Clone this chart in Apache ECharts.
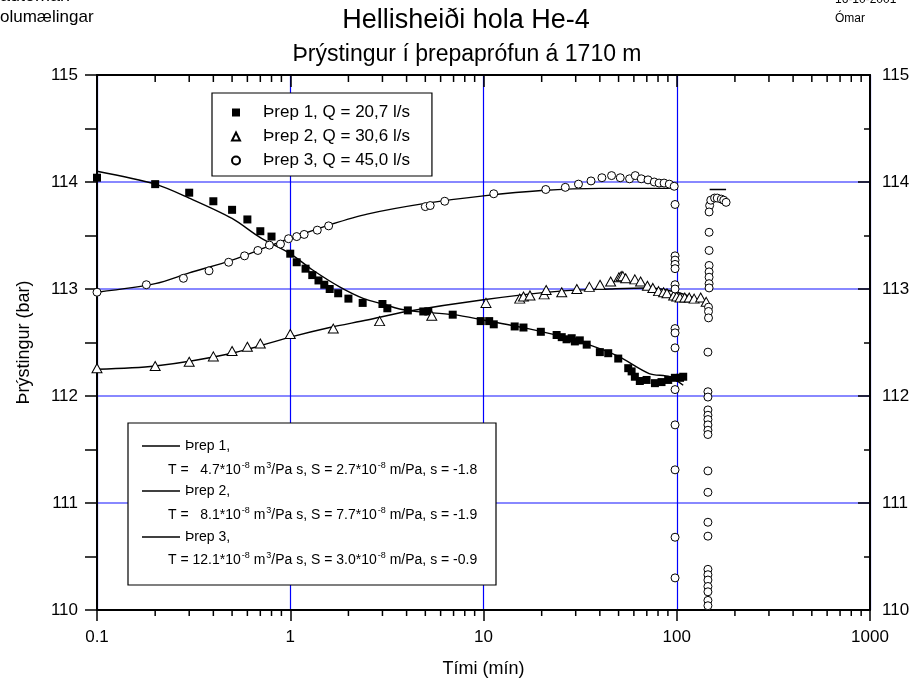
<!DOCTYPE html>
<html><head><meta charset="utf-8">
<script src="https://cdn.jsdelivr.net/npm/echarts@6/dist/echarts.min.js"></script>
<style>html,body{margin:0;padding:0;background:#fff}#c{width:921px;height:690px}</style>
</head><body><div id="c"></div>
<script>
// ---------- data ----------
const xTickLabels = [0.1, 1, 10, 100, 1000];
const xMinorTicks = [0.2,0.3,0.4,0.5,0.6,0.7,0.8,0.9,2,3,4,5,6,7,8,9,20,30,40,50,60,70,80,90,200,300,400,500,600,700,800,900];
const yTickLabels = [110, 111, 112, 113, 114, 115];

const legendNames = ['Þrep 1, Q = 20,7 l/s', 'Þrep 2, Q = 30,6 l/s', 'Þrep 3, Q = 45,0 l/s'];

const prep1 = [[0.1,114.04],[0.2,113.98],[0.3,113.90],[0.4,113.82],[0.5,113.74],[0.6,113.65],[0.7,113.54],[0.8,113.49],[1.0,113.33],[1.08,113.25],[1.2,113.19],[1.3,113.13],[1.4,113.08],[1.5,113.04],[1.6,113.00],[1.77,112.96],[2.0,112.91],[2.37,112.87],[3.0,112.86],[3.18,112.82],[4.06,112.80],[4.88,112.79],[5.18,112.79],[6.93,112.76],[9.67,112.70],[10.7,112.70],[11.3,112.67],[14.5,112.65],[16.1,112.64],[19.8,112.60],[23.9,112.57],[25.4,112.55],[26.9,112.53],[28.6,112.54],[29.7,112.51],[31.5,112.52],[34.2,112.48],[40,112.41],[44.2,112.40],[49.8,112.35],[56.1,112.26],[58.4,112.23],[60.7,112.18],[64.4,112.14],[69.8,112.15],[77.1,112.12],[83.4,112.13],[90.3,112.15],[97.8,112.17],[104,112.17],[108,112.18]];

const prep2 = [[0.1,112.26],[0.2,112.28],[0.3,112.32],[0.4,112.37],[0.5,112.42],[0.6,112.46],[0.7,112.49],[1.0,112.58],[1.67,112.63],[2.9,112.70],[5.4,112.75],[10.3,112.87],[15.4,112.91],[16.1,112.93],[17.4,112.94],[20.6,112.95],[21.1,112.99],[25.4,112.97],[30.4,113.00],[35.3,113.02],[40.1,113.04],[45.5,113.07],[50.2,113.11],[51.6,113.12],[52.6,113.12],[54.4,113.10],[60.7,113.09],[65,113.07],[70.5,113.03],[75.2,113.01],[80.5,112.98],[85.5,112.97],[89,112.96],[96.4,112.94],[100,112.93],[104,112.92],[110,112.92],[116,112.92],[123,112.91],[133,112.92],[142,112.88]];

const prep3 = [[0.1,112.97],[0.18,113.04],[0.28,113.10],[0.38,113.17],[0.48,113.25],[0.58,113.31],[0.68,113.36],[0.78,113.41],[0.89,113.42],[0.98,113.47],[1.08,113.49],[1.18,113.51],[1.38,113.55],[1.58,113.59],[5.0,113.77],[5.3,113.78],[6.3,113.82],[11.3,113.89],[21,113.93],[26.5,113.95],[31,113.98],[36,114.01],[41,114.04],[46,114.06],[51,114.04],[57,114.03],[61,114.06],[65.5,114.03],[71,114.02],[76.5,114.00],[81,113.99],[86,113.99],[91.5,113.98],[97,113.96],
[98,113.79],[98,113.31],[98,113.27],[98,113.23],[98,113.19],[98,113.04],[98,113.00],[98,112.63],[98,112.59],[98,112.45],[98,112.06],[98,111.73],[98,111.31],[98,110.68],[98,110.30],
[148,113.78],[147,113.72],[147,113.53],[147,113.36],[147,113.22],[147,113.16],[147,113.11],[147,113.05],[147,113.01],[146,112.83],[146,112.79],[146,112.73],[145,112.41],[145,112.04],[145,111.99],[145,111.87],[145,111.82],[145,111.78],[145,111.73],[145,111.68],[145,111.64],[145,111.30],[145,111.10],[145,110.82],[145,110.69],[145,110.38],[145,110.33],[145,110.28],[145,110.22],[145,110.17],[145,110.09],[145,110.04],
[150,113.83],[157,113.85],[162,113.85],[170,113.84],[175,113.83],[180,113.81]];

const fit1 = [[0.1,114.10],[0.2,113.98],[0.3,113.85],[0.5,113.66],[0.7,113.48],[1,113.33],[1.3,113.18],[1.8,113.02],[2.4,112.91],[3,112.86],[4,112.80],[7,112.76],[10,112.71],[17,112.63],[25,112.56],[35,112.48],[50,112.37],[72,112.21],[92,112.18],[108,112.10]];
const fit2 = [[0.1,112.25],[0.2,112.28],[0.5,112.40],[1,112.55],[1.6,112.64],[2.5,112.71],[4,112.79],[10,112.90],[25,112.98],[45,113.00],[70,113.01],[100,112.97],[143,112.87]];
const fit3 = [[0.1,112.97],[0.2,113.05],[0.3,113.15],[0.5,113.27],[0.8,113.41],[1.1,113.50],[1.6,113.60],[2.5,113.70],[5,113.80],[10,113.87],[20,113.92],[40,113.94],[100,113.94]];
const fit3tail = [[148,113.93],[180,113.93]];

const fitLabels = ['Þrep 1,', 'Þrep 2,', 'Þrep 3,'];
const fitT = ['  4.7', '  8.1', '12.1'];
const fitS = ['2.7', '7.7', '3.0'];
const fitSkin = ['-1.8', '-1.9', '-0.9'];

// ---------- chart ----------
const FONT = 'Liberation Sans, Arial, sans-serif';
const chart = echarts.init(document.getElementById('c'), null, {renderer: 'canvas'});
const yMin = 110, yMax = 115;

function fitLine(row) {
  return '{n|T = ' + fitT[row] + '*10}{s|-8}{n| m}{s|3}{n|/Pa s, S = ' + fitS[row] + '*10}{s|-8}{n| m/Pa, s = ' + fitSkin[row] + '}';
}
const boxLeft = 128, boxTop = 423, boxW = 368, boxH = 162;
const rowY = [446, 469, 491, 514, 537, 559];
const boxChildren = [{type:'rect', z:100, shape:{x:boxLeft, y:boxTop, width:boxW, height:boxH}, style:{fill:'#fff', stroke:'#000', lineWidth:1.2}}];
for (let i = 0; i < 3; i++) {
  boxChildren.push({type:'line', z:101, shape:{x1:142, y1:rowY[2*i], x2:180, y2:rowY[2*i]}, style:{stroke:'#000', lineWidth:1.3}});
  boxChildren.push({type:'text', z:101, x:185, y:rowY[2*i], style:{text:fitLabels[i], font:'14px ' + FONT, fill:'#000', verticalAlign:'middle', align:'left'}});
  boxChildren.push({type:'text', z:101, x:168, y:rowY[2*i+1], style:{text:fitLine(i), verticalAlign:'middle', align:'left',
    rich:{n:{fontSize:14, fontFamily:FONT, color:'#000', lineHeight:16, verticalAlign:'bottom'}, s:{fontSize:9, fontFamily:FONT, color:'#000', lineHeight:16, verticalAlign:'top', padding:[0,0,0,1]}}}});
}

const option = {
  animation: false,
  backgroundColor: '#fff',
  textStyle: {fontFamily: FONT},
  grid: {left: 97, right: 51, top: 75, bottom: 80, containLabel: false, outerBoundsMode: 'none'},
  legend: {
    data: legendNames, orient: 'vertical', left: 212, top: 93,
    backgroundColor: '#fff', borderColor: '#000', borderWidth: 1.2, borderRadius: 0,
    padding: [11, 22, 7, 19], itemWidth: 8, itemHeight: 8, itemGap: 7,
    textStyle: {fontSize: 17, fontFamily: FONT, color: '#000', lineHeight: 16, padding: [0, 0, 0, 18]},
    selectedMode: false
  },
  xAxis: [
    {type: 'log', logBase: 10, min: 0.1, max: 1000, position: 'bottom',
     name: 'Tími (mín)', nameLocation: 'middle', nameGap: 50,
     nameTextStyle: {fontSize: 18, color: '#000', fontFamily: FONT},
     axisLine: {show: true, lineStyle: {color: '#000', width: 2}},
     axisTick: {show: true, inside: false, length: 11, lineStyle: {color: '#000', width: 1.5}},
     axisLabel: {show: true, fontSize: 17, color: '#000', margin: 19, fontFamily: FONT,
       formatter: v => { const m = xTickLabels.find(t => Math.abs(t - v) / t < 1e-6); return m === undefined ? '' : String(m); }},
     splitLine: {show: true, lineStyle: {color: '#0000ff', width: 1.2}},
     minorTick: {show: false}
    },
    {type: 'log', logBase: 10, min: 0.1, max: 1000, position: 'top',
     axisLine: {show: true, lineStyle: {color: '#000', width: 2}},
     axisTick: {show: true, inside: true, length: 12, lineStyle: {color: '#000', width: 1.5}},
     axisLabel: {show: false}, splitLine: {show: false}}
  ],
  yAxis: [
    {type: 'value', min: yMin, max: yMax, interval: 1, position: 'left',
     name: 'Þrýstingur (bar)', nameLocation: 'middle', nameGap: 64, nameRotate: 90,
     nameTextStyle: {fontSize: 18, color: '#000', fontFamily: FONT},
     axisLine: {show: true, lineStyle: {color: '#000', width: 2}},
     axisTick: {show: true, inside: false, length: 12, lineStyle: {color: '#000', width: 1.5}},
     minorTick: {show: true, splitNumber: 2, length: 12, lineStyle: {color: '#000', width: 1.5}},
     axisLabel: {show: true, fontSize: 17, color: '#000', margin: 19, fontFamily: FONT,
       formatter: v => yTickLabels.indexOf(Math.round(v)) >= 0 ? String(Math.round(v)) : ''},
     splitLine: {show: true, lineStyle: {color: '#6060ff', width: 1.5}}
    },
    {type: 'value', min: yMin, max: yMax, interval: 1, position: 'right',
     axisLine: {show: true, lineStyle: {color: '#000', width: 2}},
     axisTick: {show: true, inside: true, length: 12, lineStyle: {color: '#000', width: 1.5}},
     minorTick: {show: true, splitNumber: 2, length: 6, lineStyle: {color: '#000', width: 1.5}},
     axisLabel: {show: true, fontSize: 17, color: '#000', margin: 12, fontFamily: FONT,
       formatter: v => yTickLabels.indexOf(Math.round(v)) >= 0 ? String(Math.round(v)) : ''},
     splitLine: {show: false}
    }
  ],
  graphic: [
    {type: 'text', x: 466, y: 21, style: {text: 'Hellisheiði hola He-4', font: '27px ' + FONT, fill: '#000', align: 'center', verticalAlign: 'middle'}},
    {type: 'text', x: 467, y: 55, style: {text: 'Þrýstingur í þrepaprófun á 1710 m', font: '23px ' + FONT, fill: '#000', align: 'center', verticalAlign: 'middle'}},
    {type: 'text', x: 0, y: 5, style: {text: 'automan', font: '18px ' + FONT, fill: '#000', align: 'left', verticalAlign: 'bottom'}},
    {type: 'text', x: 0, y: 17, style: {text: 'olumælingar', font: '17px ' + FONT, fill: '#000', align: 'left', verticalAlign: 'middle'}},
    {type: 'text', x: 835, y: 6, style: {text: '16-10-2001', font: '12px ' + FONT, fill: '#000', align: 'left', verticalAlign: 'bottom'}},
    {type: 'text', x: 835, y: 19, style: {text: 'Ómar', font: '12px ' + FONT, fill: '#000', align: 'left', verticalAlign: 'middle'}},
    {type: 'group', z: 100, children: boxChildren}
  ],
  series: [
    {type: 'custom', name: 'minorTicks', xAxisIndex: 0, yAxisIndex: 0, silent: true, clip: false, z: 5,
     data: xMinorTicks.map(v => [v, yMin]),
     renderItem: (params, api) => {
       const t = api.value(0);
       const b = api.coord([t, yMin]);
       const tp = api.coord([t, yMax]);
       return {type: 'group', children: [
         {type: 'line', shape: {x1: b[0], y1: b[1], x2: b[0], y2: b[1] + 6}, style: {stroke: '#000', lineWidth: 1.5}},
         {type: 'line', shape: {x1: tp[0], y1: tp[1], x2: tp[0], y2: tp[1] + 7}, style: {stroke: '#000', lineWidth: 1.5}}
       ]};
     }},
    {type: 'line', name: 'fit1', data: fit1, smooth: 0.3, showSymbol: false, lineStyle: {color: '#000', width: 1.4}, z: 3, silent: true},
    {type: 'line', name: 'fit2', data: fit2, smooth: 0.3, showSymbol: false, lineStyle: {color: '#000', width: 1.4}, z: 3, silent: true},
    {type: 'line', name: 'fit3', data: fit3, smooth: 0.3, showSymbol: false, lineStyle: {color: '#000', width: 1.4}, z: 3, silent: true},
    {type: 'line', name: 'fit3b', data: fit3tail, showSymbol: false, lineStyle: {color: '#000', width: 1.4}, z: 3, silent: true},
    {type: 'scatter', name: legendNames[0], data: prep1, symbol: 'rect', symbolSize: 8, itemStyle: {color: '#000', opacity: 1}, z: 4},
    {type: 'scatter', name: legendNames[1], data: prep2, symbol: 'triangle', symbolSize: [10, 9], itemStyle: {color: '#fff', borderColor: '#000', borderWidth: 1, opacity: 1}, z: 4},
    {type: 'scatter', name: legendNames[2], data: prep3, symbol: 'circle', symbolSize: 8, itemStyle: {color: '#fff', borderColor: '#000', borderWidth: 1, opacity: 1}, z: 4}
  ]
};
chart.setOption(option);
</script>
</body></html>
